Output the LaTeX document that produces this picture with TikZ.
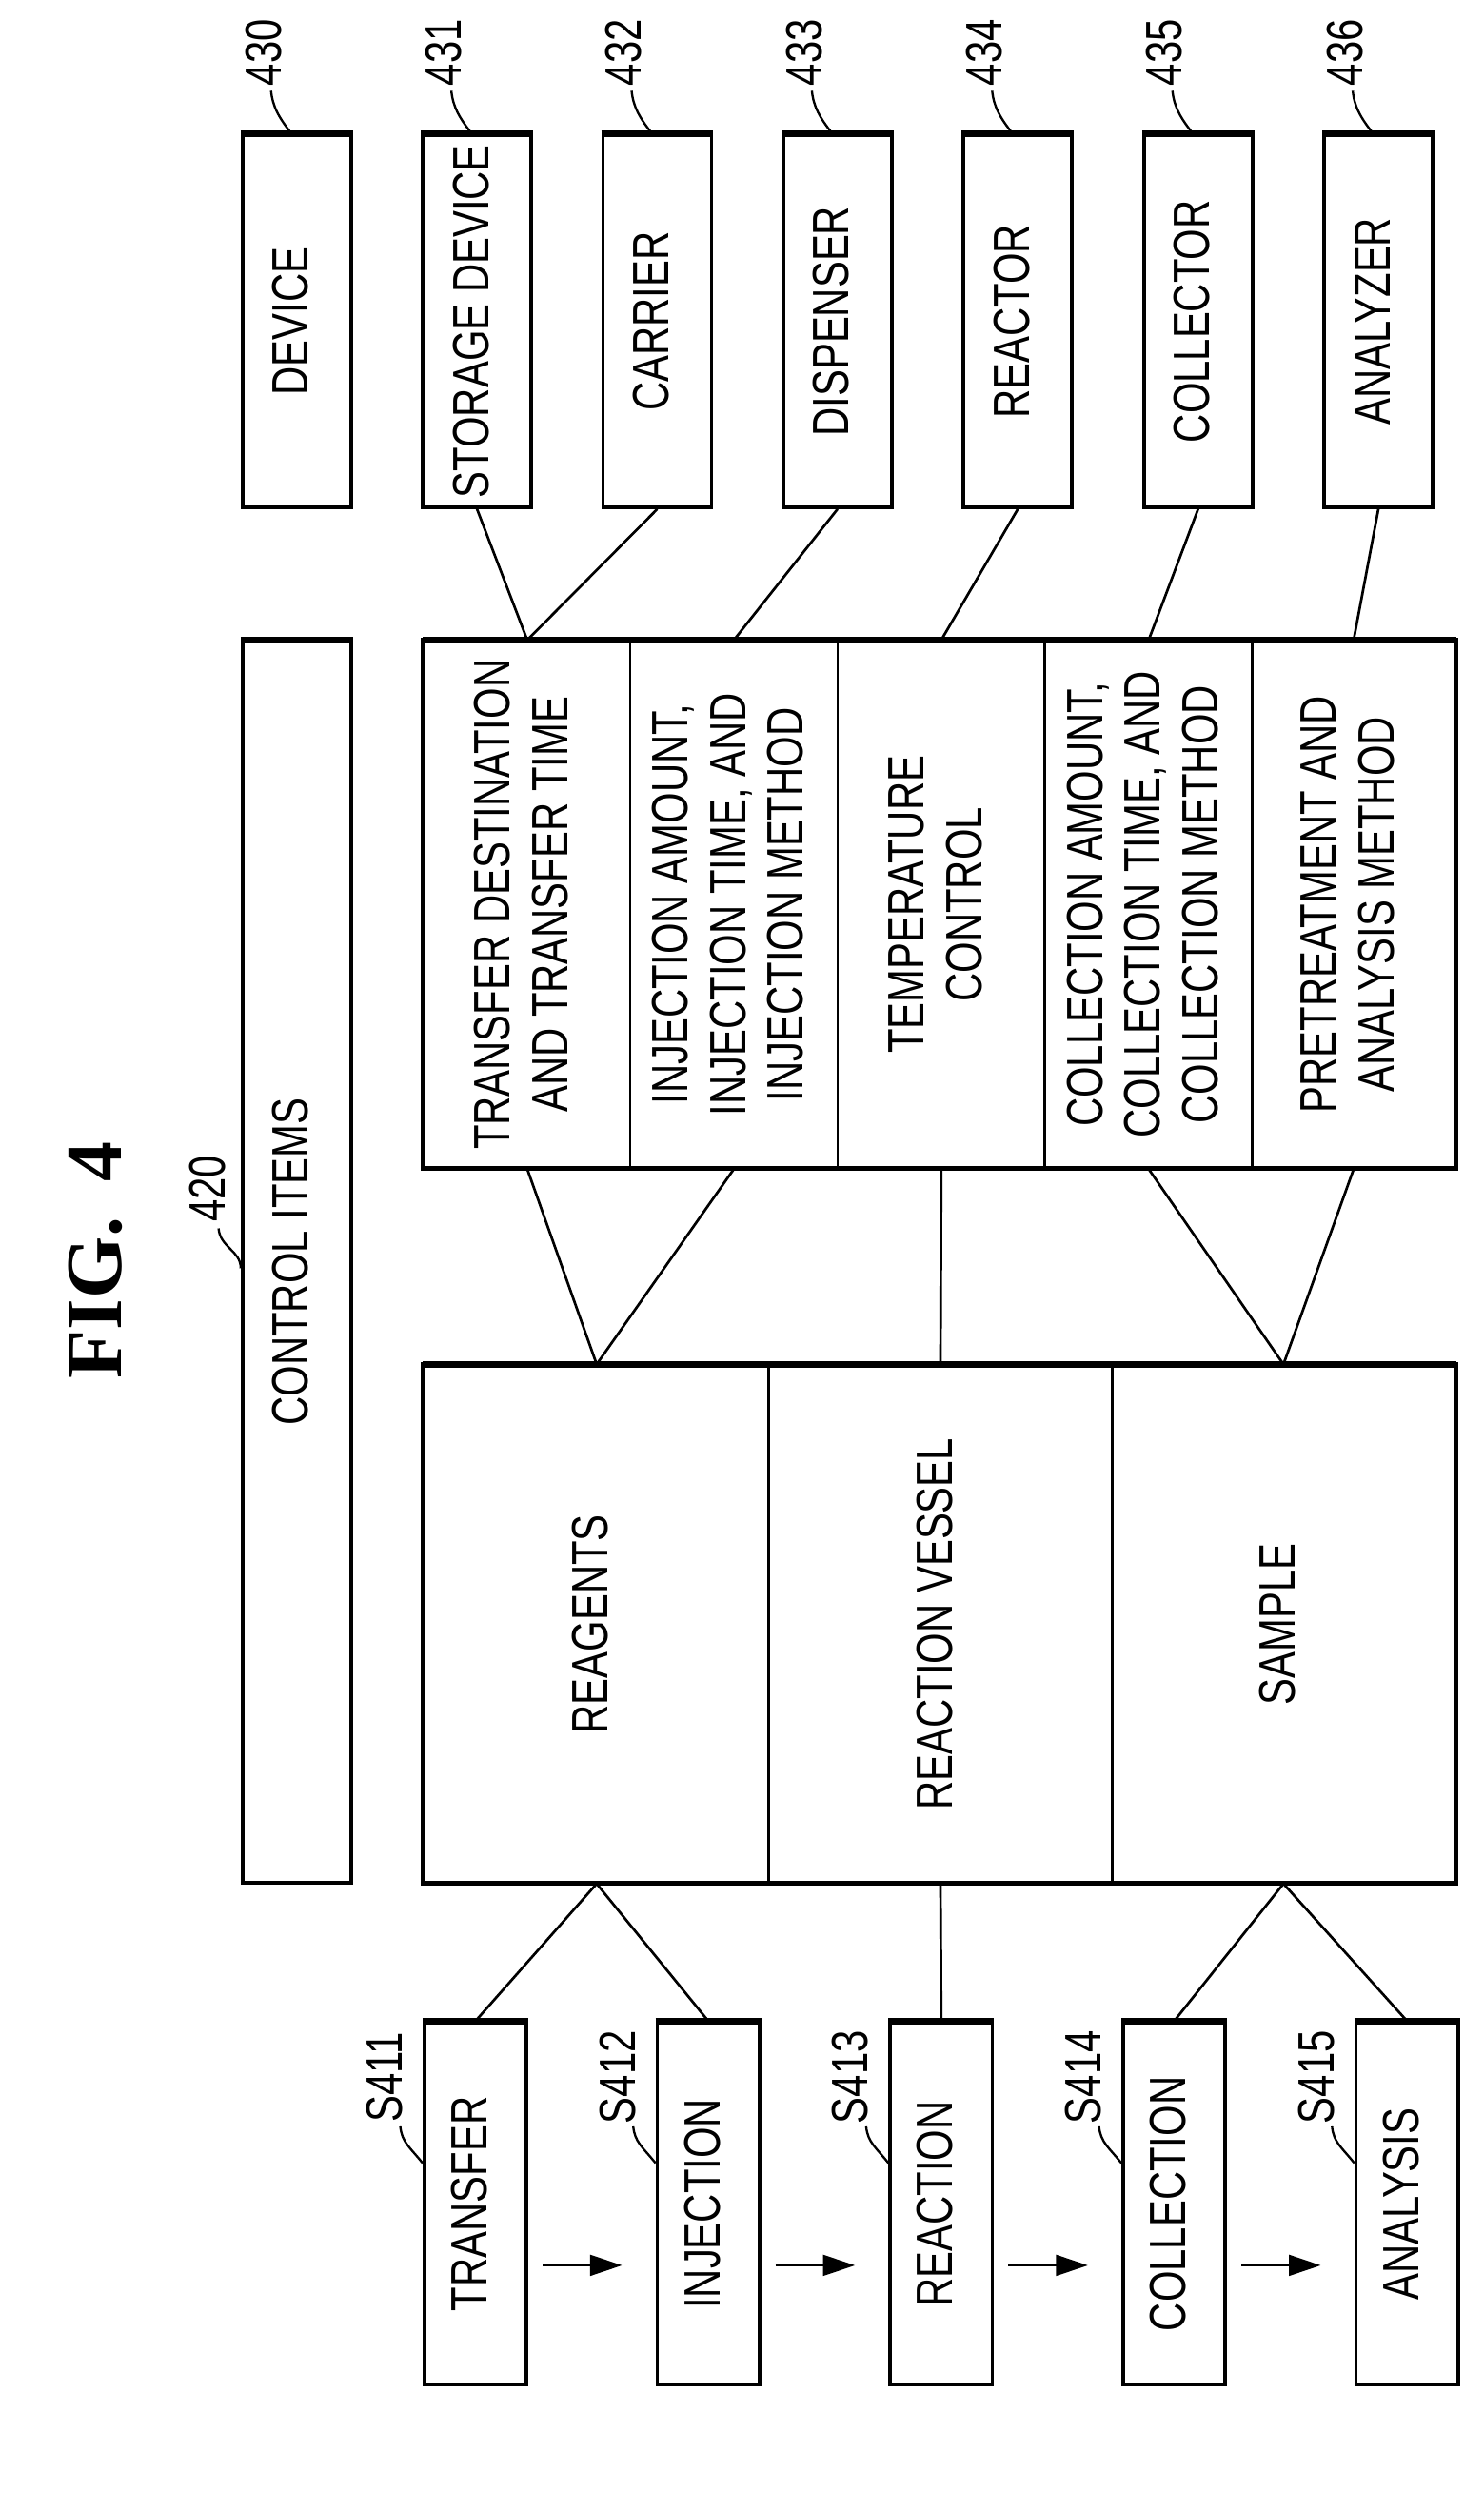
\documentclass[tikz,border=0pt]{standalone}
\usepackage{fontspec}
\setmainfont{Liberation Sans}[FakeStretch=0.78]
\newfontfamily\figfont{Liberation Serif}
\usetikzlibrary{arrows.meta,calc}
\begin{document}
\begin{tikzpicture}[x=1pt,y=-1pt,
  bx/.style={draw,line width=2.2pt,inner sep=0pt,font=\fontsize{32}{36}\selectfont},
  col/.style={draw,line width=1.6pt,inner sep=0pt,font=\fontsize{32}{36}\selectfont},
  con/.style={line width=1.6pt},
  lead/.style={line width=1.4pt},
  lab/.style={inner sep=0pt,rotate=90,font=\fontsize{32}{36}\selectfont},
  arr/.style={line width=1.6pt,-{Triangle[length=20pt,width=13pt]}}]
\useasboundingbox (0,0) rectangle (930,1574);
\newcommand{\rt}[1]{\rotatebox{90}{\begin{tabular}{@{}c@{}}#1\end{tabular}}}
\node[rotate=90,font=\figfont\bfseries\fontsize{50}{56}\selectfont] (fig) at (60,790) {FIG.\hspace{22pt}4};
% devices
\foreach \n/\l/\t in {0/152/DEVICE,1/265/STORAGE DEVICE,2/378/CARRIER,3/491/DISPENSER,4/604/REACTOR,5/717/COLLECTOR,6/830/ANALYZER}{
  \node[bx,minimum width=68pt,minimum height=233pt] (d\n) at (\l+34,201.5) {\rt{\t}};
  \draw[line width=4pt] (d\n.north west) -- (d\n.north east);
  \node[lab] (dl\n) at (\l+13,33) {43\n};
  \draw[lead] ($(d\n.north west)+(19,-27)$) .. controls +(1,10) and +(-8,-10) .. ($(d\n.north west)+(32,0)$);
}
% control items
\node[bx,minimum width=68pt,minimum height=778pt] (ci) at (186,791) {\rt{CONTROL ITEMS}};
\draw[line width=4pt] (ci.north west) -- (ci.north east);
\node[lab] (cil) at (130,745) {420};
\draw[lead] (137,770) .. controls (138,782) and (151,784) .. (ci.west |- 0,795);
% table
\foreach \n/\a/\b/\t in {1/266/395/{TRANSFER DESTINATION\\AND TRANSFER TIME},2/395/525/{INJECTION AMOUNT,\\INJECTION TIME, AND\\INJECTION METHOD},3/525/655/{TEMPERATURE\\CONTROL},4/655/785/{COLLECTION AMOUNT,\\COLLECTION TIME, AND\\COLLECTION METHOD},5/785/912/{PRETREATMENT AND\\ANALYSIS METHOD}}{
  \node[col,minimum width={(\b-\a)*1pt},minimum height=330pt] (c\n) at ({(\a+\b)/2},567) {\rt{\t}};
}
\draw[line width=2.4pt] (c1.south west) rectangle (c5.north east);
\draw[line width=4pt] (c1.north west) -- (c5.north east);
% middle
\foreach \n/\a/\b/\t in {1/266/482/REAGENTS,2/482/697/REACTION VESSEL,3/697/912/SAMPLE}{
  \node[col,minimum width={(\b-\a)*1pt},minimum height=324pt] (m\n) at ({(\a+\b)/2},1018) {\rt{\t}};
}
\draw[line width=2.4pt] (m1.south west) rectangle (m3.north east);
\draw[line width=4pt] (m1.north west) -- (m3.north east);
% steps
\foreach \n/\l/\t in {1/266/TRANSFER,2/412/INJECTION,3/558/REACTION,4/704/COLLECTION,5/850/ANALYSIS}{
  \node[bx,minimum width=64pt,minimum height=227pt] (s\n) at (\l+32,1381.5) {\rt{\t}};
  \draw[line width=4pt] (s\n.north west) -- (s\n.north east);
  \node[lab] (sl\n) at (\l-25,1302) {S41\n};
  \draw[lead] ($(s\n.north west)+(-14,66)$) .. controls +(1,10) and +(-8,-10) .. ($(s\n.north west)+(0,89)$);
}
% connectors
\draw[con] (d1.south) -- (c1.north);
\draw[con] (d2.south) -- (c1.north);
\draw[con] (d3.south) -- (c2.north);
\draw[con] (d4.south) -- (c3.north);
\draw[con] (d5.south) -- (c4.north);
\draw[con] (d6.south) -- (c5.north);
\draw[con] (c1.south) -- (m1.north);
\draw[con] (c2.south) -- (m1.north);
\draw[con] (c3.south) -- (m2.north);
\draw[con] (c4.south) -- (m3.north);
\draw[con] (c5.south) -- (m3.north);
\draw[con] (m1.south) -- (s1.north);
\draw[con] (m1.south) -- (s2.north);
\draw[con] (m2.south) -- (s3.north);
\draw[con] (m3.south) -- (s4.north);
\draw[con] (m3.south) -- (s5.north);
\foreach \a/\b in {1/2,2/3,3/4,4/5}{
  \draw[arr] ($(s\a.east)+(9,38.5)$) -- ($(s\b.west)+(-21,38.5)$);
}
\end{tikzpicture}
\end{document}
